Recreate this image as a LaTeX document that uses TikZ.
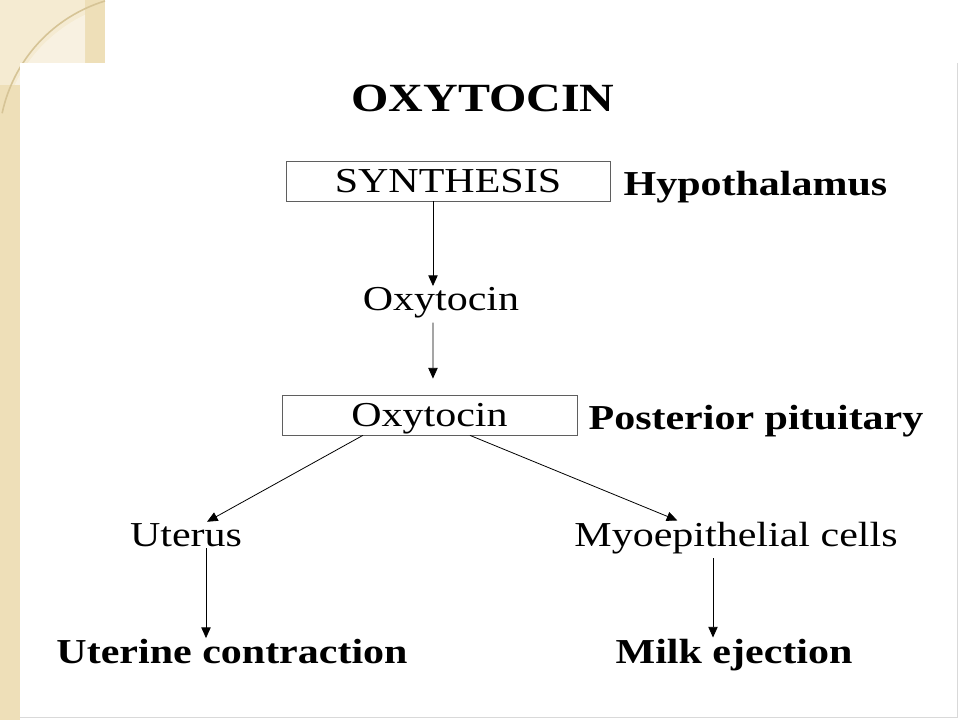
\documentclass[tikz,border=0pt]{standalone}
\usepackage{fontspec}
\setmainfont[FakeStretch=1.2]{Liberation Serif}
\usetikzlibrary{arrows.meta,positioning}

\definecolor{beige}{RGB}{238,223,184}
\definecolor{beigelight}{RGB}{245,235,210}
\definecolor{arcline}{RGB}{214,196,150}
\definecolor{boxline}{RGB}{95,95,95}

\begin{document}
\begin{tikzpicture}[x=0.75pt,y=-0.75pt,
  every node/.style={inner sep=1pt},
  plain/.style={font=\fontsize{26.25}{30}\selectfont},
  heavy/.style={font=\fontsize{26.25}{30}\selectfont\bfseries},
  stage/.style={draw=boxline,line width=0.6pt,minimum height=30pt,text depth=0pt,plain},
  arr/.style={-{Triangle[width=7pt,length=8pt]},line width=0.6pt}]

% page and slide corner
\fill[white] (0,0) rectangle (960,720);
\fill[beige] (0,0) rectangle (20,720);
\fill[beige] (0,0) rectangle (105,63);
\fill[beigelight] (0,0) rectangle (85,85);
\begin{scope}
  \clip (0,0) rectangle (85,85);
  \fill[white,opacity=0.35] (150,150) circle (150);
\end{scope}
\draw[arcline,line width=1.2pt] (105,1) arc[start angle=-107,end angle=-168,radius=150];
\fill[white] (20,63) rectangle (957,717);
\draw[black!15,line width=0.6pt] (957,63) -- (957,717) -- (20,717);

% title
\node[font=\fontsize{30}{34}\selectfont\bfseries] (title) at (483,98) {OXYTOCIN};

% chain
\node[stage,minimum width=243pt] (synth) at (448,181) {SYNTHESIS};
\node[heavy,anchor=west] (hypo) at (622,187) {Hypothalamus};
\node[plain] (oxy) at (441,303) {Oxytocin};
\node[stage,minimum width=221.25pt] (pit) at (429.5,415) {Oxytocin};
\node[heavy,anchor=west] (post) at (587,421) {Posterior pituitary};

% targets
\node[plain] (uterus) at (186,535) {Uterus};
\node[plain] (myo) at (736,538) {Myoepithelial cells};
\node[heavy] (uc) at (232,652) {Uterine contraction};
\node[heavy] (milk) at (734,655) {Milk ejection};

\draw[arr] ([xshift=-11.25pt]synth.south) -- ([xshift=-6pt]oxy.north);
\draw[arr,shorten <=2pt,shorten >=12pt] ([xshift=-6pt]oxy.south) -- ([xshift=2.6pt]pit.north);
\draw[arr] ([xshift=-50pt]pit.south) -- ([xshift=15.75pt]uterus.north);
\draw[arr] ([xshift=30.4pt]pit.south) -- ([xshift=-44pt]myo.north);
\draw[arr] ([xshift=15pt]uterus.south) -- ([xshift=-19.5pt]uc.north);
\draw[arr,shorten <=2pt] ([xshift=-17.25pt]myo.south) -- ([xshift=-15.75pt]milk.north);
\end{tikzpicture}
\end{document}
